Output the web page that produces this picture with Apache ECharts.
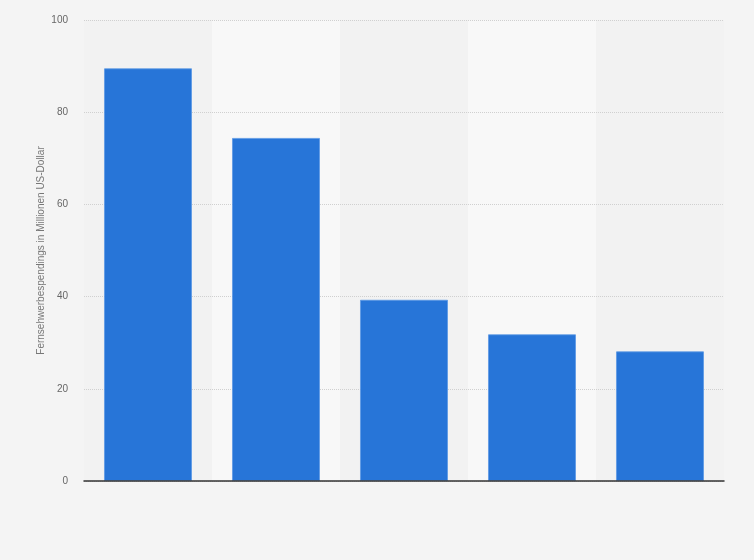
<!DOCTYPE html>
<html><head><meta charset="utf-8">
<script src="https://cdn.jsdelivr.net/npm/echarts@6/dist/echarts.min.js"></script>
<style>html,body{margin:0;padding:0;background:#f4f4f4;}#c{width:754px;height:560px;}</style>
</head><body><div id="c"></div>
<script>
const categories = ['A', 'B', 'C', 'D', 'E'];
const values = [89.5, 74.4, 39.3, 31.8, 28.1];
const yTicks = [0, 20, 40, 60, 80, 100];
const yTitle = 'Fernsehwerbespendings in Millionen US-Dollar';

const chart = echarts.init(document.getElementById('c'));
chart.setOption({
  backgroundColor: '#f4f4f4',
  animation: false,
  grid: { left: 84, right: 30, top: 20, bottom: 79 },
  xAxis: [{
    type: 'category',
    data: categories,
    position: 'bottom',
    z: 5,
    axisLine: { show: true, lineStyle: { color: '#333', width: 1.5 } },
    axisTick: { show: false },
    axisLabel: { show: false },
    splitArea: { show: false }
  }, {
    type: 'category',
    data: categories,
    position: 'bottom',
    z: 0,
    axisLine: { show: false },
    axisTick: { show: false },
    axisLabel: { show: false },
    splitArea: { show: true, areaStyle: { color: ['#f2f2f2', '#f8f8f8'] } }
  }],
  yAxis: {
    type: 'value',
    z: 1,
    min: yTicks[0], max: yTicks[yTicks.length - 1], interval: 20,
    name: yTitle,
    nameLocation: 'middle',
    nameGap: 38,
    nameMoveOverlap: false,
    nameTextStyle: { color: '#777', fontSize: 10, fontFamily: 'Arial, Liberation Sans, sans-serif' },
    axisLine: { show: false },
    axisTick: { show: false },
    axisLabel: { color: '#666', fontSize: 10, margin: 16, fontFamily: 'Arial, Liberation Sans, sans-serif' },
    splitLine: { show: true, lineStyle: { color: '#d0d0d0', width: 1, type: [1, 1] } }
  },
  series: [{
    type: 'bar',
    xAxisIndex: 0,
    z: 2,
    data: values,
    barWidth: '68.6%',
    itemStyle: { color: '#2775d8', borderColor: '#5c98e4', borderWidth: 0.8 }
  }]
});
</script></body></html>
